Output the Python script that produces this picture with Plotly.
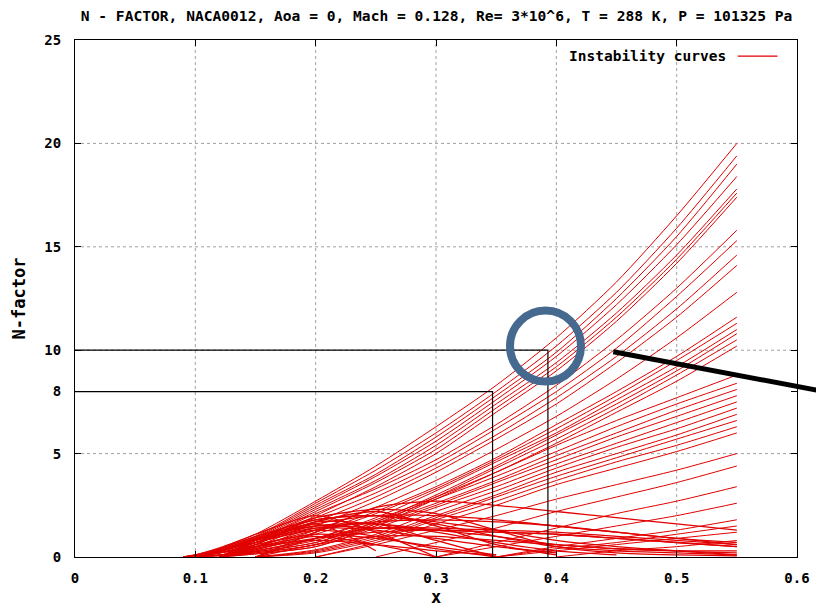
import plotly.graph_objects as go

N = None
# x stations (chord position) shared by all instability curves
XS = [0.09, 0.10, 0.12, 0.15, 0.20, 0.25, 0.30, 0.35, 0.40, 0.45, 0.50, 0.55]

# growing instability curves (N-factor at each station)
CURVES = [
    [0, 0.1, 0.45, 1.1, 2.7, 4.4, 6.3, 8.3, 10.6, 13.3, 16.5, 20.0],
    [N, 0, 0.4, 1.0, 2.6, 4.2, 6.0, 8.0, 10.2, 12.8, 15.9, 19.4],
    [N, 0, 0.35, 0.95, 2.5, 4.0, 5.8, 7.8, 9.9, 12.5, 15.5, 19.0],
    [0, 0.05, 0.3, 0.9, 2.4, 3.9, 5.6, 7.6, 9.7, 12.2, 15.1, 18.4],
    [N, 0, 0.3, 0.85, 2.3, 3.7, 5.4, 7.4, 9.4, 11.8, 14.6, 17.8],
    [N, 0, 0.25, 0.8, 2.2, 3.6, 5.2, 7.2, 9.2, 11.6, 14.4, 17.6],
    [N, N, 0, 0.6, 2.0, 3.4, 5.0, 7.0, 9.0, 11.4, 14.2, 17.4],
    [N, 0, 0.25, 0.8, 2.1, 3.3, 4.7, 6.4, 8.3, 10.5, 13.0, 15.8],
    [N, 0, 0.2, 0.7, 1.9, 3.1, 4.5, 6.2, 8.0, 10.1, 12.6, 15.3],
    [N, N, 0, 0.5, 1.7, 2.9, 4.3, 5.9, 7.7, 9.7, 12.0, 14.6],
    [N, N, 0, 0.45, 1.5, 2.7, 4.1, 5.7, 7.4, 9.4, 11.6, 14.1],
    [N, 0, 0.1, 0.4, 1.3, 2.4, 3.7, 5.2, 6.8, 8.6, 10.6, 12.8],
    [N, N, 0, 0.35, 1.2, 2.2, 3.4, 4.8, 6.4, 8.0, 9.7, 11.6],
    [0, 0.02, 0.1, 0.35, 1.1, 2.1, 3.3, 4.7, 6.2, 7.8, 9.5, 11.3],
    [N, 0, 0.1, 0.3, 0.9, 1.9, 3.2, 4.6, 6.0, 7.6, 9.2, 11.0],
    [N, N, 0, 0.25, 0.7, 1.7, 3.0, 4.4, 5.9, 7.4, 9.0, 10.8],
    [N, 0, 0.05, 0.2, 0.6, 1.6, 2.9, 4.3, 5.7, 7.2, 8.8, 10.5],
    [N, N, 0, 0.15, 0.5, 1.5, 2.8, 4.1, 5.5, 7.0, 8.5, 10.2],
    [N, N, 0, 0.3, 0.9, 1.8, 2.9, 4.1, 5.4, 6.6, 7.7, 8.8],
    [0, 0.03, 0.1, 0.3, 0.8, 1.7, 2.8, 3.9, 5.1, 6.3, 7.4, 8.4],
    [N, 0, 0.08, 0.25, 0.7, 1.6, 2.6, 3.7, 4.9, 6.0, 7.1, 8.1],
    [N, N, 0, 0.2, 0.6, 1.5, 2.5, 3.6, 4.7, 5.8, 6.8, 7.8],
    [N, N, 0, 0.15, 0.5, 1.4, 2.4, 3.4, 4.5, 5.5, 6.5, 7.5],
    [N, N, N, 0, 0.35, 1.1, 2.2, 3.2, 4.3, 5.3, 6.2, 7.2],
    [N, N, N, 0, 0.3, 1.0, 2.0, 3.0, 4.1, 5.0, 5.9, 6.9],
    [N, N, N, 0, 0.25, 0.9, 1.9, 2.9, 3.9, 4.8, 5.7, 6.6],
    [N, N, N, 0, 0.2, 0.8, 1.8, 2.7, 3.7, 4.6, 5.4, 6.3],
    [N, N, N, N, 0, 0.7, 1.6, 2.5, 3.5, 4.3, 5.1, 6.0],
    [N, N, N, N, 0, 0.6, 1.3, 2.0, 2.8, 3.5, 4.2, 5.0],
    [N, N, N, N, N, 0, 0.7, 1.4, 2.2, 2.9, 3.6, 4.4],
    [N, N, N, N, N, N, 0, 0.7, 1.4, 2.1, 2.7, 3.4],
    [N, N, N, N, N, N, 0, 0.5, 1.0, 1.5, 2.0, 2.6],
    [N, N, N, N, N, N, N, 0, 0.5, 0.9, 1.3, 1.8],
    [N, N, N, N, N, N, N, 0, 0.4, 0.7, 1.1, 1.5],
    [N, N, N, N, N, N, N, 0, 0.3, 0.6, 0.9, 1.2],
    [N, N, N, N, N, N, N, N, 0, 0.3, 0.5, 0.8],
]

# rising-then-decaying curves
HUMPS = [
    [N, N, 0, 0.8, 1.8, 2.0, 1.7, 1.3, 0.8, 0.5, 0.3, 0.2],
    [N, N, 0, 0.7, 1.5, 1.6, 1.3, 1.0, 0.6, 0.4, 0.3, 0.3],
    [N, 0, 0.4, 1.1, 2.0, 1.2, 0.0, N, N, N, N, N],
    [N, 0, 0.3, 0.9, 1.6, 0.3, N, N, N, N, N, N],
    [N, N, 0, 0.6, 1.7, 1.6, 1.2, 0.7, 0.3, 0.1, N, N],
    [N, N, N, 0, 1.2, 2.4, 2.7, 2.5, 2.2, 1.9, 1.6, 1.3],
    [N, N, N, 0, 0.9, 1.4, 1.4, 1.3, 1.2, 1.0, 0.8, 0.6],
    [N, 0, 0.3, 0.7, 1.3, 1.0, 0.4, 0, N, N, N, N],
    [0, 0.05, 0.2, 0.5, 1.0, 0.6, 0, N, N, N, N, N],
    [N, N, 0, 0.4, 0.9, 1.2, 1.3, 1.2, 1.1, 0.9, 0.7, 0.5],
    [N, N, N, 0, 0.6, 1.0, 1.0, 0.8, 0.6, 0.4, 0.3, 0.1],
    [0, 0.1, 0.4, 1.0, 1.8, 2.0, 1.6, 1.0, 0.5, 0.3, 0.2, 0.1],
    [N, 0, 0.3, 0.9, 1.5, 1.4, 1.3, 1.2, 1.1, 0.9, 0.7, 0.5],
    [0, 0.1, 0.3, 0.8, 1.4, 1.3, 0.9, 0.5, 0.2, N, N, N],
    [N, 0, 0.2, 0.6, 1.1, 0.9, 0.5, 0.1, N, N, N, N],
    [0, 0.05, 0.2, 0.5, 0.8, 0.6, 0.3, 0.1, N, N, N, N],
    [N, 0, 0.25, 0.8, 1.6, 2.0, 2.0, 1.8, 1.5, 1.2, 0.9, 0.7],
    [N, N, 0, 0.5, 1.3, 1.7, 1.8, 1.7, 1.5, 1.2, 0.9, 0.6],
    [0, 0.05, 0.3, 0.7, 1.4, 1.6, 0.8, 0, N, N, N, N],
    [0, 0.08, 0.35, 0.9, 1.9, 2.3, 2.1, 1.3, 0.5, 0.2, 0.1, 0.05],
    [N, 0, 0.3, 0.8, 1.7, 2.2, 1.5, 0.6, 0.1, N, N, N],
]

# transition criteria markers (N-factor threshold -> x position)
THRESH_N = [8, 10]
THRESH_X = [0.347, 0.393]

X_TICKS = [0, 0.1, 0.2, 0.3, 0.4, 0.5, 0.6]
X_TICKTEXT = ["0", "0.1", "0.2", "0.3", "0.4", "0.5", "0.6"]
Y_TICKS = [0, 5, 8, 10, 15, 20, 25]
GRID_X = [0.1, 0.2, 0.3, 0.4, 0.5]
GRID_Y = [5, 10, 15, 20]

RED = "rgb(225,0,0)"
FONT = "DejaVu Sans Mono"

fig = go.Figure()

for ys in CURVES:
    fig.add_trace(go.Scatter(x=XS, y=ys, mode="lines",
                             line=dict(color=RED, width=1, shape="spline", smoothing=0.7),
                             hoverinfo="skip", showlegend=False))
for ys in HUMPS:
    fig.add_trace(go.Scatter(x=XS, y=ys, mode="lines",
                             line=dict(color=RED, width=1.3, shape="spline", smoothing=0.7),
                             hoverinfo="skip", showlegend=False))

for n, xv in zip(THRESH_N, THRESH_X):
    fig.add_trace(go.Scatter(x=[0, xv, xv], y=[n, n, 0], mode="lines",
                             line=dict(color="black", width=1.2),
                             hoverinfo="skip", showlegend=False))

# dotted grid
for g in GRID_X:
    fig.add_shape(type="line", xref="x", yref="paper", x0=g, x1=g, y0=0, y1=1,
                  line=dict(color="#a0a0a0", width=1, dash="dot"), layer="below")
for g in GRID_Y:
    fig.add_shape(type="line", xref="paper", yref="y", x0=0, x1=1, y0=g, y1=g,
                  line=dict(color="#a0a0a0", width=1, dash="dot"), layer="below")

# legend (gnuplot style: text then sample)
fig.add_annotation(text="Instability curves", xref="paper", yref="paper",
                   x=0.905, y=0.969, xanchor="right", yanchor="middle", showarrow=False,
                   font=dict(family=FONT, size=14.5, color="black", weight="bold"))
fig.add_shape(type="line", xref="paper", yref="paper", x0=0.918, x1=0.973, y0=0.969, y1=0.969,
              line=dict(color=RED, width=1.2))

# highlight circle
fig.add_shape(type="circle", xref="x", yref="y", xsizemode="pixel", ysizemode="pixel",
              xanchor=0.391, yanchor=10.2, x0=-35.5, x1=35.5, y0=-35.5, y1=35.5,
              line=dict(color="#46698F", width=8))
# pointer line
fig.add_shape(type="line", xref="paper", yref="paper", x0=0.7456, y0=0.3971, x1=1.03, y1=0.322,
              line=dict(color="black", width=5))

fig.update_layout(
    width=816, height=607,
    margin=dict(l=75, r=19, t=40, b=50),
    plot_bgcolor="white", paper_bgcolor="white",
    showlegend=False,
    font=dict(family=FONT, size=14, color="black", weight="bold"),
    title=dict(text="N - FACTOR, NACA0012, Aoa = 0, Mach = 0.128, Re= 3*10^6, T = 288 K, P = 101325 Pa",
               x=0.535, xanchor="center", y=1 - 16 / 607, yanchor="middle",
               font=dict(family=FONT, size=14.6, color="black", weight="bold")),
    xaxis=dict(range=[0, 0.6], tickmode="array", tickvals=X_TICKS, ticktext=X_TICKTEXT,
               showgrid=False, zeroline=False, showline=True, linecolor="black", linewidth=1,
               mirror="ticks", ticks="inside", ticklen=6, tickcolor="black",
               ticklabelstandoff=8, automargin=False,
               title=dict(text="x", standoff=8)),
    yaxis=dict(range=[0, 25], tickmode="array", tickvals=Y_TICKS,
               showgrid=False, zeroline=False, showline=True, linecolor="black", linewidth=1,
               mirror="ticks", ticks="inside", ticklen=6, tickcolor="black",
               ticklabelstandoff=10, automargin=False,
               title=dict(text="N-factor", standoff=14)),
)

fig.write_html("out.html")
